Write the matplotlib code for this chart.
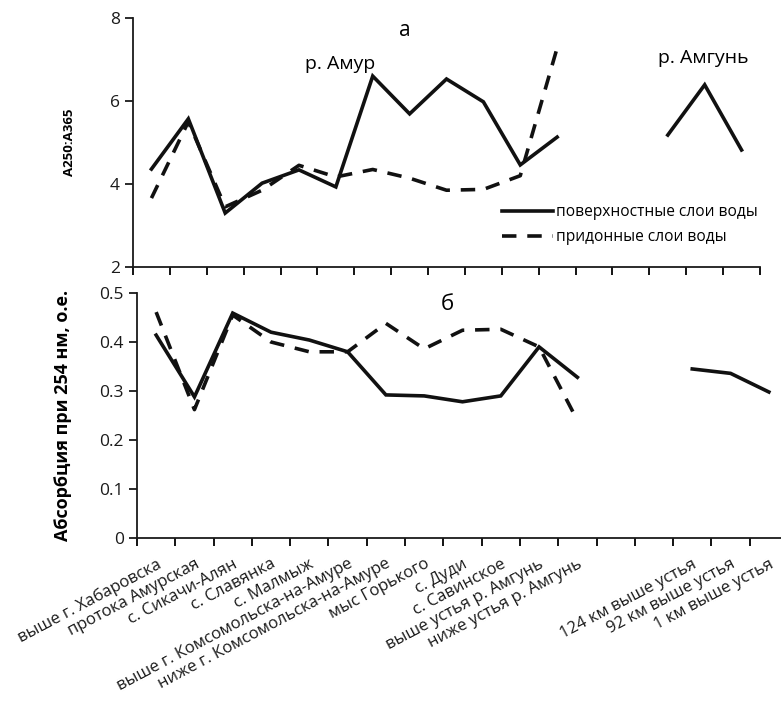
import matplotlib.pyplot as plt
import numpy as np

plt.rcParams["font.family"] = ["Open Sans", "DejaVu Sans"]

# станции: 12 на Амуре, 2 пустых, 3 на Амгуни
stations = [
    "выше г. Хабаровска", "протока Амурская", "с. Сикачи-Алян", "с. Славянка",
    "с. Малмыж", "выше г. Комсомольска-на-Амуре", "ниже г. Комсомольска-на-Амуре",
    "мыс Горького", "с. Дуди", "с. Савинское", "выше устья р. Амгунь",
    "ниже устья р. Амгунь", "", "",
    "124 км выше устья", "92 км выше устья", "1 км выше устья",
]

nan = np.nan
# A250:A365
ratio_surf = [4.36, 5.57, 3.30, 4.02, 4.34, 3.93, 6.60, 5.69, 6.53, 5.98, 4.46, 5.13,
              nan, nan, 5.18, 6.39, 4.82]
ratio_bott = [3.66, 5.50, 3.45, 3.85, 4.45, 4.17, 4.35, 4.14, 3.85, 3.87, 4.20, 7.28,
              nan, nan, nan, nan, nan]
# Абсорбция при 254 нм
abs_surf = [0.414, 0.288, 0.459, 0.420, 0.404, 0.380, 0.292, 0.290, 0.278, 0.290,
            0.390, 0.328, nan, nan, 0.345, 0.336, 0.298]
abs_bott = [0.461, 0.262, 0.455, 0.400, 0.380, 0.380, 0.438, 0.386, 0.424, 0.426,
            0.390, 0.240, nan, nan, nan, nan, nan]

x = np.arange(len(stations))
W, H = 781, 708
fig = plt.figure(figsize=(W / 100, H / 100), dpi=100)

ax1 = fig.add_axes([133 / W, 1 - 267 / H, (760 - 133) / W, (267 - 18) / H])
ax2 = fig.add_axes([137 / W, 1 - 538 / H, (788 - 137) / W, (538 - 293) / H])

lw = 2.6
dash = (4, 3)


def style(ax):
    for s in ["top", "right"]:
        ax.spines[s].set_visible(False)
    for s in ["left", "bottom"]:
        ax.spines[s].set_linewidth(1.3)
        ax.spines[s].set_color("#1a1a1a")
    ax.set_xlim(-0.5, len(stations) - 0.5)
    ax.set_xticks(np.arange(-0.5, len(stations), 1.0), minor=True)
    ax.set_xticks(x)
    ax.tick_params(axis="x", which="major", length=0)
    ax.tick_params(axis="x", which="minor", length=6, width=1.3, direction="out")
    ax.tick_params(axis="y", length=6, width=1.3, direction="out", labelsize=12.5,
                   colors="#1a1a1a")


# верхняя панель
ax1.plot(x, ratio_surf, color="#111111", lw=lw, solid_joinstyle="miter",
         label="поверхностные слои воды")
ax1.plot(x, ratio_bott, color="#111111", lw=lw, dashes=dash,
         label="придонные слои воды")
style(ax1)
ax1.set_ylim(2, 8)
ax1.set_yticks([2, 4, 6, 8])
ax1.set_xticklabels([])
ax1.set_ylabel("A250:A365", fontsize=9.5, fontweight="bold", labelpad=24)
ax1.text(405, 30, "а", fontsize=15, ha="center", va="center")
ax1.text(340, 64, "р. Амур", fontsize=14, ha="center", va="center")
ax1.text(703, 58, "р. Амгунь", fontsize=14, ha="center", va="center")
ax1.legend(loc="upper left", bbox_to_anchor=(502 / W, 1 - 204 / H),
           bbox_transform=fig.transFigure, frameon=False, fontsize=11.2,
           handlelength=3.3, handletextpad=0.15, labelspacing=0.6,
           borderpad=0, borderaxespad=0)

# нижняя панель
ax2.plot(x, abs_surf, color="#111111", lw=lw, solid_joinstyle="miter")
ax2.plot(x, abs_bott, color="#111111", lw=lw, dashes=dash)
style(ax2)
ax2.set_ylim(0, 0.5)
ax2.set_yticks([0, 0.1, 0.2, 0.3, 0.4, 0.5])
ax2.set_yticklabels(["0", "0.1", "0.2", "0.3", "0.4", "0.5"])
ax2.set_ylabel("Абсорбция при 254 нм, о.е.", fontsize=13, fontweight="bold",
               labelpad=20)
ax2.text(447, 305, "б", fontsize=16, ha="center", va="center")
ax2.set_xticklabels(stations, rotation=28, ha="right", rotation_mode="anchor",
                    fontsize=12, color="#1a1a1a")
ax2.tick_params(axis="x", which="major", pad=13)

# подписи заданы в пикселях от верхнего края картинки
for t in ax1.texts + ax2.texts:
    px, py = t.get_position()
    t.set_transform(fig.dpi_scale_trans)
    t.set_position((px / 100, (H - py) / 100))

fig.savefig("out.png", dpi=100)
